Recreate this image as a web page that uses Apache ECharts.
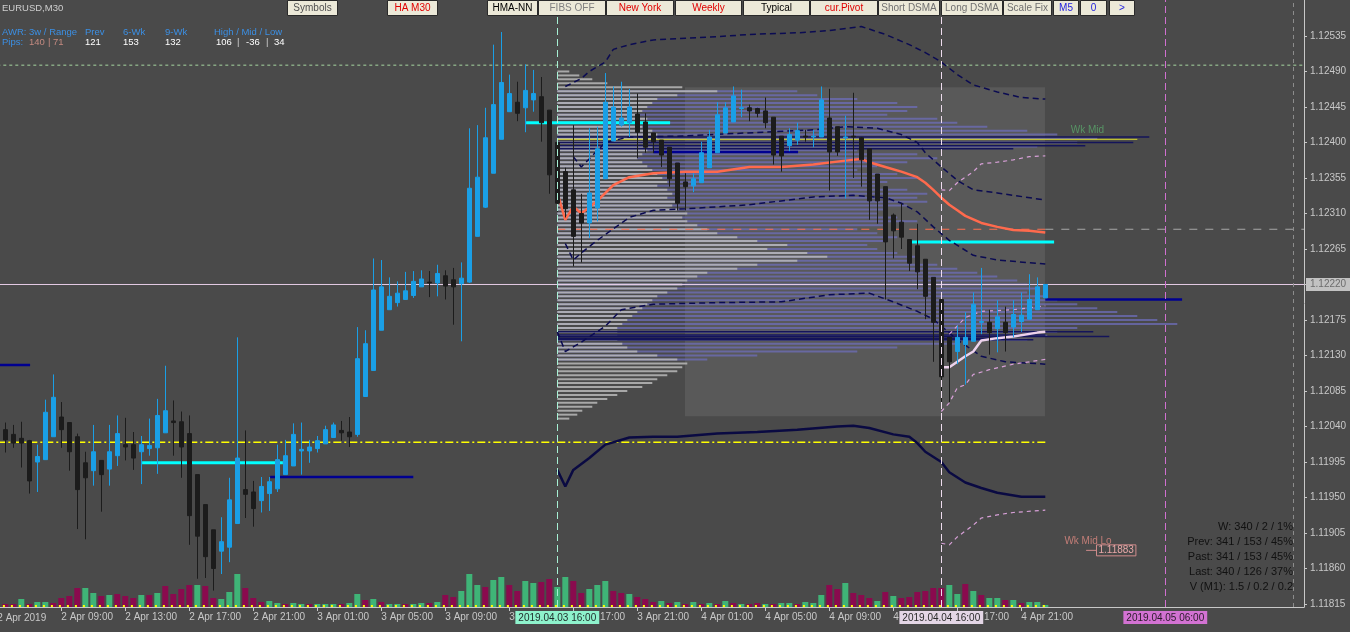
<!DOCTYPE html>
<html><head><meta charset="utf-8">
<script src="https://cdn.jsdelivr.net/npm/echarts@6/dist/echarts.min.js"></script>
<style>html,body{margin:0;padding:0;background:#4a4a4a;}#c{width:1350px;height:632px;}</style>
</head><body><div id="c"></div>
<script>
// ---------- DATA ----------
const timeTickIdx = [7,15,23,31,39,47,55,63,71,79,87,95,103,111,119,127];
const timeTickLabels = ['2 Apr 09:00','2 Apr 13:00','2 Apr 17:00','2 Apr 21:00','3 Apr 01:00','3 Apr 05:00','3 Apr 09:00','3 Apr 13:00','3 Apr 17:00','3 Apr 21:00','4 Apr 01:00','4 Apr 05:00','4 Apr 09:00','4 Apr 13:00','4 Apr 17:00','4 Apr 21:00'];
const firstDateLabel = '2 Apr 2019';
const priceTicks = [1.11815,1.11860,1.11905,1.11950,1.11995,1.12040,1.12085,1.12130,1.12175,1.12220,1.12265,1.12310,1.12355,1.12400,1.12445,1.12490,1.12535];
const priceRange = [1.118112, 1.125806];
const barRange = [-0.6625, 162.3375];
const lastPrice = 1.12220;
// bar index 0 = 2019-04-02 05:30 (M30). rows: [open, high, low, close]
const ohlc = [
[1.12036,1.12045,1.12007,1.12023],[1.12030,1.12042,1.12013,1.12019],[1.12025,1.12046,1.11988,1.12019],[1.12022,1.12023,1.11955,1.11971],[1.11995,1.12017,1.11957,1.12002],
[1.11998,1.12074,1.11998,1.12058],[1.12027,1.12106,1.12027,1.12077],[1.12052,1.12071,1.12013,1.12036],[1.12045,1.12045,1.11984,1.12008],[1.12027,1.12031,1.11910,1.11960],
[1.11994,1.12008,1.11897,1.11975],[1.11984,1.12042,1.11965,1.12008],[1.11997,1.11997,1.11932,1.11979],[1.11986,1.12042,1.11965,1.12008],[1.12003,1.12054,1.11990,1.12031],
[1.12017,1.12051,1.11997,1.12014],[1.12017,1.12033,1.11985,1.12000],[1.12008,1.12028,1.11967,1.12017],[1.12012,1.12050,1.12003,1.12016],[1.12013,1.12075,1.11980,1.12054],
[1.12032,1.12117,1.12032,1.12060],[1.12047,1.12073,1.12003,1.12045],[1.12046,1.12059,1.11975,1.12014],[1.12031,1.12054,1.11890,1.11927],[1.11979,1.11979,1.11847,1.11901],
[1.11941,1.11941,1.11848,1.11875],[1.11909,1.11909,1.11832,1.11860],[1.11882,1.11925,1.11853,1.11894],[1.11887,1.11975,1.11868,1.11947],[1.11917,1.12153,1.11917,1.12000],
[1.11960,1.12035,1.11924,1.11954],[1.11957,1.11971,1.11913,1.11936],[1.11946,1.11976,1.11931,1.11964],[1.11955,1.11976,1.11933,1.11970],[1.11961,1.12017,1.11957,1.11998],
[1.11979,1.12023,1.11979,1.12003],[1.11990,1.12044,1.11990,1.12030],[1.12009,1.12045,1.11979,1.12011],[1.12009,1.12023,1.11994,1.12014],[1.12012,1.12028,1.12007,1.12022],
[1.12018,1.12041,1.12018,1.12036],[1.12026,1.12045,1.12026,1.12042],[1.12035,1.12047,1.12022,1.12032],[1.12033,1.12052,1.12014,1.12027],[1.12030,1.12166,1.12027,1.12126],
[1.12078,1.12162,1.12078,1.12145],[1.12111,1.12253,1.12111,1.12213],[1.12162,1.12251,1.12162,1.12217],[1.12188,1.12229,1.12188,1.12205],[1.12197,1.12224,1.12192,1.12209],
[1.12201,1.12236,1.12201,1.12212],[1.12206,1.12237,1.12203,1.12224],[1.12217,1.12238,1.12217,1.12227],[1.12223,1.12237,1.12204,1.12222],[1.12222,1.12245,1.12205,1.12234],
[1.12231,1.12238,1.12201,1.12218],[1.12226,1.12241,1.12169,1.12217],[1.12221,1.12248,1.12148,1.12228],[1.12223,1.12418,1.12222,1.12342],[1.12281,1.12422,1.12281,1.12356],
[1.12318,1.12444,1.12317,1.12406],[1.12361,1.12524,1.12361,1.12448],[1.12404,1.12540,1.12404,1.12476],[1.12439,1.12486,1.12439,1.12462],[1.12451,1.12477,1.12427,1.12437],
[1.12444,1.12499,1.12413,1.12466],[1.12454,1.12492,1.12439,1.12462],[1.12458,1.12483,1.12401,1.12425],[1.12441,1.12441,1.12335,1.12359],[1.12400,1.12403,1.12312,1.12323],
[1.12363,1.12368,1.12305,1.12316],[1.12340,1.12422,1.12243,1.12281],[1.12310,1.12335,1.12248,1.12298],[1.12298,1.12418,1.12279,1.12336],[1.12317,1.12420,1.12300,1.12392],
[1.12354,1.12488,1.12354,1.12451],[1.12402,1.12471,1.12402,1.12445],[1.12422,1.12477,1.12420,1.12431],[1.12425,1.12468,1.12407,1.12445],[1.12436,1.12462,1.12380,1.12413],
[1.12426,1.12437,1.12387,1.12394],[1.12412,1.12412,1.12387,1.12401],[1.12403,1.12403,1.12369,1.12384],[1.12394,1.12394,1.12344,1.12354],[1.12374,1.12374,1.12314,1.12323],
[1.12350,1.12361,1.12314,1.12344],[1.12345,1.12361,1.12337,1.12354],[1.12349,1.12401,1.12349,1.12387],[1.12368,1.12416,1.12368,1.12407],[1.12387,1.12451,1.12387,1.12435],
[1.12412,1.12451,1.12412,1.12444],[1.12426,1.12471,1.12426,1.12459],[1.12443,1.12467,1.12432,1.12444],[1.12444,1.12448,1.12427,1.12440],[1.12443,1.12444,1.12432,1.12437],
[1.12440,1.12457,1.12418,1.12425],[1.12432,1.12432,1.12372,1.12384],[1.12408,1.12408,1.12363,1.12383],[1.12396,1.12418,1.12389,1.12410],[1.12403,1.12425,1.12397,1.12415],
[1.12408,1.12416,1.12401,1.12407],[1.12407,1.12416,1.12394,1.12408],[1.12407,1.12471,1.12407,1.12454],[1.12431,1.12468,1.12339,1.12388],[1.12420,1.12420,1.12383,1.12388],
[1.12406,1.12434,1.12329,1.12407],[1.12408,1.12463,1.12355,1.12407],[1.12406,1.12407,1.12344,1.12378],[1.12392,1.12392,1.12302,1.12326],[1.12360,1.12360,1.12297,1.12326],
[1.12344,1.12344,1.12201,1.12274],[1.12308,1.12310,1.12253,1.12288],[1.12299,1.12323,1.12265,1.12280],[1.12277,1.12277,1.12237,1.12247],[1.12269,1.12297,1.12214,1.12236],
[1.12252,1.12252,1.12176,1.12205],[1.12229,1.12229,1.12122,1.12172],[1.12201,1.12201,1.12068,1.12103],[1.12153,1.12153,1.12071,1.12122],[1.12135,1.12168,1.12119,1.12153],
[1.12144,1.12185,1.12093,1.12153],[1.12148,1.12210,1.12148,1.12195],[1.12172,1.12241,1.12157,1.12173],[1.12172,1.12188,1.12131,1.12159],[1.12164,1.12200,1.12134,1.12179],
[1.12172,1.12192,1.12135,1.12159],[1.12166,1.12200,1.12153,1.12182],[1.12173,1.12210,1.12160,1.12181],[1.12176,1.12233,1.12176,1.12201],[1.12188,1.12229,1.12188,1.12217],
[1.12203,1.12220,1.12203,1.12220]
];
const volume = [135,135,360,135,225,225,180,405,495,855, 855,630,495,540,585,495,405,540,540,630,
 945,585,810,990,990,945,405,360,675,1485, 855,405,225,270,180,135,180,135,135,135,
 135,135,135,180,585,315,360,225,135,135, 135,135,180,180,225,540,450,720,1485,990,
 900,1215,1350,990,720,1170,1080,1125,1260,900, 1350,1170,630,810,990,1170,720,630,585,450,
 360,225,270,180,225,135,225,135,180,135, 270,180,135,135,180,135,135,180,180,135,
 225,180,540,990,810,1080,630,540,405,270, 675,495,405,450,675,720,855,855,990,585,
 1035,720,540,405,405,315,315,180,225,225, 90];
const volumeUp = [0,0,1,0,1,1,0,0,0,0, 1,1,0,1,0,0,0,1,0,1, 0,0,0,0,1,0,0,1,1,1, 0,0,0,1,1,0,1,1,0,1,
 1,1,0,1,1,0,1,0,1,1, 0,1,1,0,1,0,0,1,1,1, 0,1,1,0,0,1,1,0,0,1, 1,0,0,1,1,1,0,0,1,0,
 0,0,1,0,1,0,1,0,1,0, 1,0,1,0,0,1,0,1,1,0, 1,1,1,0,0,1,0,0,0,1, 0,1,0,0,0,0,0,0,1,1,
 0,1,0,1,1,0,1,0,1,1, 1];
const volumeScaleMax = 27315;
const volumeFloor = 60;

// Session VWAP + bands (from 2019.04.03 16:00)
const vwap = [[69,1.12336],[70,1.12302],[71,1.12319],[72,1.12310],[74,1.12326],[76,1.12346],[78,1.12356],[81,1.12361],[85,1.12363],[89,1.12363],[93,1.12369],[97,1.12369],[101,1.12372],[105,1.12377],[107,1.12379],[108,1.12375],[110,1.12369],[112,1.12363],[114,1.12356],[115,1.12349],[116,1.12340],[117,1.12330],[118,1.12321],[119,1.12314],[120,1.12307],[122,1.12298],[124,1.12293],[126,1.12289],[128,1.12288],[130,1.12286]];
const bandUpper2 = [[70,1.12471],[72,1.12481],[73,1.12490],[75,1.12502],[76,1.12518],[78,1.12524],[81,1.12530],[85,1.12532],[89,1.12534],[93,1.12537],[99,1.12539],[103,1.12542],[107,1.12547],[110,1.12537],[113,1.12524],[115,1.12514],[117,1.12502],[119,1.12486],[121,1.12473],[124,1.12464],[127,1.12457],[130,1.12455]];
const bandUpper1 = [[71,1.12382],[72,1.12369],[75,1.12400],[78,1.12407],[84,1.12408],[101,1.12416],[105,1.12420],[109,1.12418],[112,1.12410],[114,1.12400],[115,1.12387],[117,1.12369],[119,1.12352],[121,1.12340],[124,1.12336],[130,1.12327]];
const bandLower1 = [[70,1.12272],[71,1.12251],[72,1.12260],[74,1.12276],[78,1.12305],[81,1.12314],[85,1.12316],[93,1.12321],[101,1.12331],[106,1.12333],[110,1.12330],[112,1.12323],[114,1.12312],[116,1.12293],[118,1.12276],[121,1.12257],[124,1.12251],[130,1.12246]];
const bandLower2 = [[69,1.12160],[70,1.12135],[72,1.12147],[75,1.12167],[77,1.12188],[81,1.12195],[89,1.12197],[97,1.12198],[103,1.12207],[108,1.12209],[111,1.12198],[114,1.12186],[116,1.12176],[119,1.12150],[122,1.12129],[125,1.12122],[130,1.12119]];
const bandLower3 = [[69,1.11985],[70,1.11964],[71,1.11985],[73,1.12000],[75,1.12017],[78,1.12026],[81,1.12027],[84,1.12027],[89,1.12031],[94,1.12033],[99,1.12036],[104,1.12040],[106,1.12041],[108,1.12038],[111,1.12030],[113,1.12027],[114,1.12019],[115,1.12008],[117,1.11995],[118,1.11982],[120,1.11969],[122,1.11962],[124,1.11956],[127,1.11951],[130,1.11951]];
// Daily VWAP + bands (from 2019.04.04 16:00)
const dayVwap = [[117,1.12115],[118,1.12115],[120,1.12129],[121,1.12135],[122,1.12149],[124,1.12152],[126,1.12154],[129,1.12159],[130,1.12160]];
const dayUpper2 = [[117,1.12340],[118,1.12339],[119,1.12349],[121,1.12363],[122,1.12373],[124,1.12375],[126,1.12378],[128,1.12382],[130,1.12383]];
const dayUpper1 = [[118,1.12157],[120,1.12178],[122,1.12186],[126,1.12188],[130,1.12193]];
const dayLower1 = [[117,1.12059],[118,1.12070],[119,1.12089],[120,1.12093],[121,1.12106],[123,1.12112],[126,1.12119],[130,1.12125]];
const dayLower2 = [[117,1.11892],[118,1.11890],[119,1.11900],[121,1.11915],[122,1.11924],[124,1.11928],[126,1.11931],[130,1.11934]];

// Volume profile (session from bar 69)
const profileStart = 69;
const profileBarsPerUnit = 1/8;
const profilePrices = [1.12490,1.12485,1.12480,1.12475,1.12470,1.12465,1.12460,1.12455,1.12450,1.12445,1.12440,1.12435,1.12430,1.12425,1.12420,1.12415,1.12410,1.12405,1.12400,1.12395,
1.12390,1.12385,1.12380,1.12375,1.12370,1.12365,1.12360,1.12355,1.12350,1.12345,1.12340,1.12335,1.12330,1.12325,1.12320,1.12315,1.12310,1.12305,1.12300,1.12295,
1.12290,1.12285,1.12280,1.12275,1.12270,1.12265,1.12260,1.12255,1.12250,1.12245,1.12240,1.12235,1.12230,1.12225,1.12220,1.12215,1.12210,1.12205,1.12200,1.12195,
1.12190,1.12185,1.12180,1.12175,1.12170,1.12165,1.12160,1.12155,1.12150,1.12145,1.12140,1.12135,1.12130,1.12125,1.12120,1.12115,1.12110,1.12105,1.12100,1.12095,
1.12090,1.12085,1.12080,1.12075,1.12070,1.12065,1.12060,1.12055,1.12050];
const profileGray = [12,22,35,50,125,160,120,100,95,90,85,80,90,100,85,95,100,100,90,95,
90,85,80,85,90,95,100,105,110,100,110,115,110,120,115,120,130,125,130,140,
150,160,180,200,230,210,250,270,240,200,180,150,140,130,125,120,110,100,95,90,
85,80,75,70,65,60,60,60,60,65,70,80,100,120,130,125,120,110,100,95,
85,70,60,50,40,35,25,20,12];
const profileBlue = [0,0,0,0,0,240,260,300,340,360,350,330,380,400,430,470,500,540,520,480,
300,360,380,350,320,300,340,360,330,320,350,370,360,370,350,330,320,340,360,330,
300,320,340,330,310,320,340,360,350,380,400,420,440,460,470,480,470,490,500,520,
540,560,580,600,620,520,500,490,470,400,340,300,200,150,0,0,0,0,0,0,
0,0,0,0,0,0,0,0,0];
const pocPrices = [1.12407,1.12400,1.12396,1.12392,1.12160,1.12156,1.12154,1.12152,1.12150];
const pocVol = [592,576,528,456,536,488,552,450,476];
const boxRange = [[84.96,1.12470],[129.96,1.12053]];

// Horizontal levels: [fromBar, toBar, price]
const cyanLevels = [[65.1,83.1,1.12425],[17.1,34.7,1.11994],[113.3,131.1,1.12274]];
const navyLevels = [[-1,3.1,1.12118],[33.1,51.0,1.11976],[130,147.1,1.12201],[81,99.1,1.12388]];
const weekMid = [69,141.5,1.12404];
const yellowLevel = [-1,130,1.12020];
const greenLevel = [-1,162.34,1.12498];
const pivotLevel = [69,130,1.12290];
const pivotExt = [130,162.34,1.12290];
const wkMidLo = [135.1,136.4,1.11883];
const sessionMarks = [[69,'2019.04.03 16:00'],[117,'2019.04.04 16:00'],[145,'2019.04.05 06:00']];
const rightGuideBar = 161;

// ---------- CHART ----------
const FONT = '"Liberation Sans", Arial, sans-serif';
const chart = echarts.init(document.getElementById('c'));

function seg(l, color, width, type, z){
  return {type:'line', data:[[l[0],l[2]],[l[1],l[2]]], symbol:'none', silent:true, z:z||3,
    lineStyle:{color:color, width:width, type:type||'solid'}};
}
function band(d, color, width, type, z){
  return {type:'line', data:d, symbol:'none', silent:true, z:z||3,
    lineStyle:{color:color, width:width, type:type||'solid'}};
}
function profile(prices, vols, color, width, z){
  return {type:'custom', silent:true, z:z, clip:true,
    data: prices.map((p,k)=>[profileStart, p, vols[k]]),
    encode:{x:0,y:1},
    renderItem:(params, api)=>{
      const len = api.value(2);
      if(!len) return {type:'group', children:[]};
      const a = api.coord([api.value(0), api.value(1)]);
      const b = api.coord([api.value(0) + len*profileBarsPerUnit, api.value(1)]);
      return {type:'line', shape:{x1:a[0],y1:a[1],x2:b[0],y2:b[1]}, style:{stroke:color, lineWidth:width}};
    }};
}

const series = [];
series.push({type:'line', data:[], silent:true, z:0,
  markArea:{silent:true, itemStyle:{color:'#595959'}, data:[[{coord:boxRange[0]},{coord:boxRange[1]}]]}});
series.push(profile(profilePrices, profileBlue, 'rgba(110,110,185,0.75)', 2, 1));
series.push(profile(profilePrices, profileGray, 'rgba(185,185,185,0.85)', 2, 1));
series.push(profile(pocPrices, pocVol, '#14145a', 1.5, 1));
series.push(seg(greenLevel, '#a6d6a0', 1, [3,3], 2));
series.push(seg(yellowLevel, '#ffff00', 1.5, [8,3,2,3], 2));
series.push(seg(pivotLevel, '#ff6f4f', 1, [8,8], 2));
series.push(seg(pivotExt, '#a8a8a8', 1, [8,8], 2));
series.push(seg(weekMid, '#d8d830', 1, 'solid', 2));
cyanLevels.forEach(l=>series.push(seg(l, '#00ffff', 3, 'solid', 3)));
navyLevels.forEach(l=>series.push(seg(l, '#000090', 2.5, 'solid', 3)));
series.push(band(bandUpper2, '#0b0b52', 1.5, [6,4]));
series.push(band(bandUpper1, '#0b0b52', 1.5, [6,4]));
series.push(band(bandLower1, '#0b0b52', 1.5, [6,4]));
series.push(band(bandLower2, '#0b0b52', 1.5, [6,4]));
series.push(band(bandLower3, '#0a0a42', 2.5, 'solid'));
series.push(band(vwap, '#ff6a4d', 2.5, 'solid'));
series.push(band(dayUpper2, '#d8a0d8', 1.2, [4,4]));
series.push(band(dayUpper1, '#d8a0d8', 1.2, [4,4]));
series.push(band(dayLower1, '#d8a0d8', 1.2, [4,4]));
series.push(band(dayLower2, '#d8a0d8', 1.2, [4,4]));
series.push(band(dayVwap, '#ecd2ec', 2.5, 'solid'));
// volume
series.push({type:'bar', yAxisIndex:1, barWidth:6, silent:true, z:2,
  data: volume.map((v,i)=>({value:[i,v], itemStyle:{color: volumeUp[i] ? '#3fb477' : '#8a0a4e'}})),
  markLine:{silent:true, symbol:['none','none'], label:{show:false},
    lineStyle:{color:'#ffff00', width:2, type:[2,6]},
    data:[[{coord:[-0.3, volumeFloor]},{coord:[130.3, volumeFloor]}]]}});
// last price line with axis box
series.push({type:'line', data:[[barRange[0], lastPrice],[barRange[1], lastPrice]], symbol:'none', silent:true, z:3,
  lineStyle:{color:'#e6cce6', width:1},
  endLabel:{show:true, formatter:lastPrice.toFixed(5), backgroundColor:'#c2c2c2', color:'#6c6c6c',
    padding:[2,4,1,4], fontSize:10, fontFamily:FONT, distance:2}});
// candles
series.push({type:'candlestick', barWidth:5, silent:true, z:4,
  data: ohlc.map((d,i)=>[i, d[0], d[3], d[2], d[1]]),
  itemStyle:{color:'#1a9fe6', color0:'#1c1c1c', borderColor:'#1a9fe6', borderColor0:'#1c1c1c', borderWidth:1}});
// labels
series.push({type:'scatter', data:[[132.5, 1.12416]], symbolSize:1, silent:true, z:6,
  itemStyle:{color:'rgba(0,0,0,0)'},
  label:{show:true, position:'right', distance:5, formatter:'Wk Mid', color:'#5aa86c', fontSize:10, fontFamily:FONT}});
series.push({type:'scatter', data:[[131.7, 1.11895]], symbolSize:1, silent:true, z:6,
  itemStyle:{color:'rgba(0,0,0,0)'},
  label:{show:true, position:'right', distance:5, formatter:'Wk Mid Lo', color:'#e08a82', fontSize:10, fontFamily:FONT}});
series.push({type:'line', data:[[wkMidLo[0],wkMidLo[2]],[wkMidLo[1],wkMidLo[2]]], symbol:'none', silent:true, z:6,
  lineStyle:{color:'#d08c8c', width:1},
  endLabel:{show:true, formatter:'1.11883', color:'#e8a8a8', borderColor:'#d08c8c', borderWidth:1,
    padding:[1,2,0,2], fontSize:10, fontFamily:FONT, distance:0}});
// vertical session markers
series.push({type:'line', data:[], silent:true, z:8,
  markLine:{silent:true, symbol:['none','none'], z:8,
    data:[
      {xAxis:sessionMarks[0][0], lineStyle:{color:'#a6f0d4', width:1, type:[7,4]},
        label:{show:true, position:'start', formatter:sessionMarks[0][1], backgroundColor:'#8ef2cc', color:'#1e2a28', padding:[2,3,1,3], fontSize:10, fontFamily:FONT, distance:4}},
      {xAxis:sessionMarks[1][0], lineStyle:{color:'#eedcee', width:1, type:[7,4]},
        label:{show:true, position:'start', formatter:sessionMarks[1][1], backgroundColor:'#e4d6e6', color:'#2a2a2a', padding:[2,3,1,3], fontSize:10, fontFamily:FONT, distance:4}},
      {xAxis:sessionMarks[2][0], lineStyle:{color:'#d070d0', width:1, type:[7,4]},
        label:{show:true, position:'start', formatter:sessionMarks[2][1], backgroundColor:'#d272d2', color:'#2a1a2a', padding:[2,3,1,3], fontSize:10, fontFamily:FONT, distance:4}},
      {xAxis:rightGuideBar, lineStyle:{color:'#8c8c8c', width:1, type:[4,4]}, label:{show:false}}
    ]}});

// ---------- overlay texts / buttons ----------
const buttons = [['Symbols',287,338,'#505050'],['HA M30',387,438,'#e00000'],['HMA-NN',487,538,'#000000'],['FIBS OFF',538,606,'#808080'],
 ['New York',606,674,'#e00000'],['Weekly',675,742,'#e00000'],['Typical',743,810,'#000000'],['cur.Pivot',810,878,'#e00000'],
 ['Short DSMA',878,940,'#707070'],['Long DSMA',941,1003,'#707070'],['Scale Fix',1003,1052,'#707070'],['M5',1053,1079,'#2222dd'],['0',1080,1107,'#2222dd'],['>',1109,1135,'#2222dd']];
const graphic = [];
buttons.forEach(b=>{
  graphic.push({type:'rect', z:100, silent:true, shape:{x:b[1]+0.5, y:0.5, width:b[2]-b[1]-1, height:15}, style:{fill:'#ece9d8', stroke:'#2a2a2a', lineWidth:1}});
  graphic.push({type:'text', z:101, silent:true, x:(b[1]+b[2])/2, y:8.5, style:{text:b[0], fill:b[3], font:'10px '+FONT, align:'center', verticalAlign:'middle'}});
});
const topTexts = [
 ['EURUSD,M30',2,8,'#cfcfcf'],
 ['AWR: 3w / Range',2,32,'#3b8fe4'],['Prev',85,32,'#3b8fe4'],['6-Wk',123,32,'#3b8fe4'],['9-Wk',165,32,'#3b8fe4'],['High / Mid / Low',214,32,'#3b8fe4'],
 ['Pips:',2,42,'#3b8fe4'],['140',29,42,'#c48a80'],['|',48,42,'#c48a80'],['71',53,42,'#c48a80'],['121',85,42,'#ffffff'],['153',123,42,'#ffffff'],['132',165,42,'#ffffff'],
 ['106',216,42,'#ffffff'],['|',237,42,'#cfcfcf'],['-36',246,42,'#ffffff'],['|',266,42,'#cfcfcf'],['34',274,42,'#ffffff']
];
topTexts.forEach(t=>graphic.push({type:'text', z:101, silent:true, x:t[1], y:t[2], style:{text:t[0], fill:t[3], font:'9.5px '+FONT, verticalAlign:'middle'}}));
graphic.push({type:'text', z:101, silent:true, x:-2.7, y:618, style:{text:firstDateLabel, fill:'#c8c8c8', font:'10px '+FONT, verticalAlign:'middle'}});
const statLines = ['W: 340 / 2 / 1%','Prev: 341 / 153 / 45%','Past: 341 / 153 / 45%','Last: 340 / 126 / 37%','V (M1): 1.5 / 0.2 / 0.2'];
statLines.forEach((s,k)=>graphic.push({type:'text', z:101, silent:true, x:1293, y:527+k*15, style:{text:s, fill:'#111111', font:'11px '+FONT, align:'right', verticalAlign:'middle'}}));

chart.setOption({
  animation:false,
  backgroundColor:'#4a4a4a',
  grid:{left:0, right:46, top:0, bottom:25},
  xAxis:{type:'value', min:barRange[0], max:barRange[1],
    axisLine:{show:true, onZero:false, lineStyle:{color:'#c8c8c8'}},
    axisTick:{show:true, customValues:timeTickIdx, length:4, lineStyle:{color:'#c8c8c8'}},
    axisLabel:{show:true, customValues:timeTickIdx, formatter:v=>timeTickLabels[timeTickIdx.indexOf(v)]||'', align:'left', color:'#c8c8c8', fontSize:10, fontFamily:FONT, margin:5},
    splitLine:{show:false}},
  yAxis:[
    {type:'value', position:'right', min:priceRange[0], max:priceRange[1],
      axisLine:{show:true, onZero:false, lineStyle:{color:'#c8c8c8'}},
      axisTick:{show:true, customValues:priceTicks, length:3, lineStyle:{color:'#c8c8c8'}},
      axisLabel:{show:true, customValues:priceTicks, formatter:v=>v.toFixed(5), color:'#c8c8c8', fontSize:10, fontFamily:FONT, margin:6},
      splitLine:{show:false}},
    {type:'value', position:'right', min:0, max:volumeScaleMax, show:false, axisLine:{show:false, onZero:false}, splitLine:{show:false}}
  ],
  series:series,
  graphic:graphic
});
</script></body></html>
